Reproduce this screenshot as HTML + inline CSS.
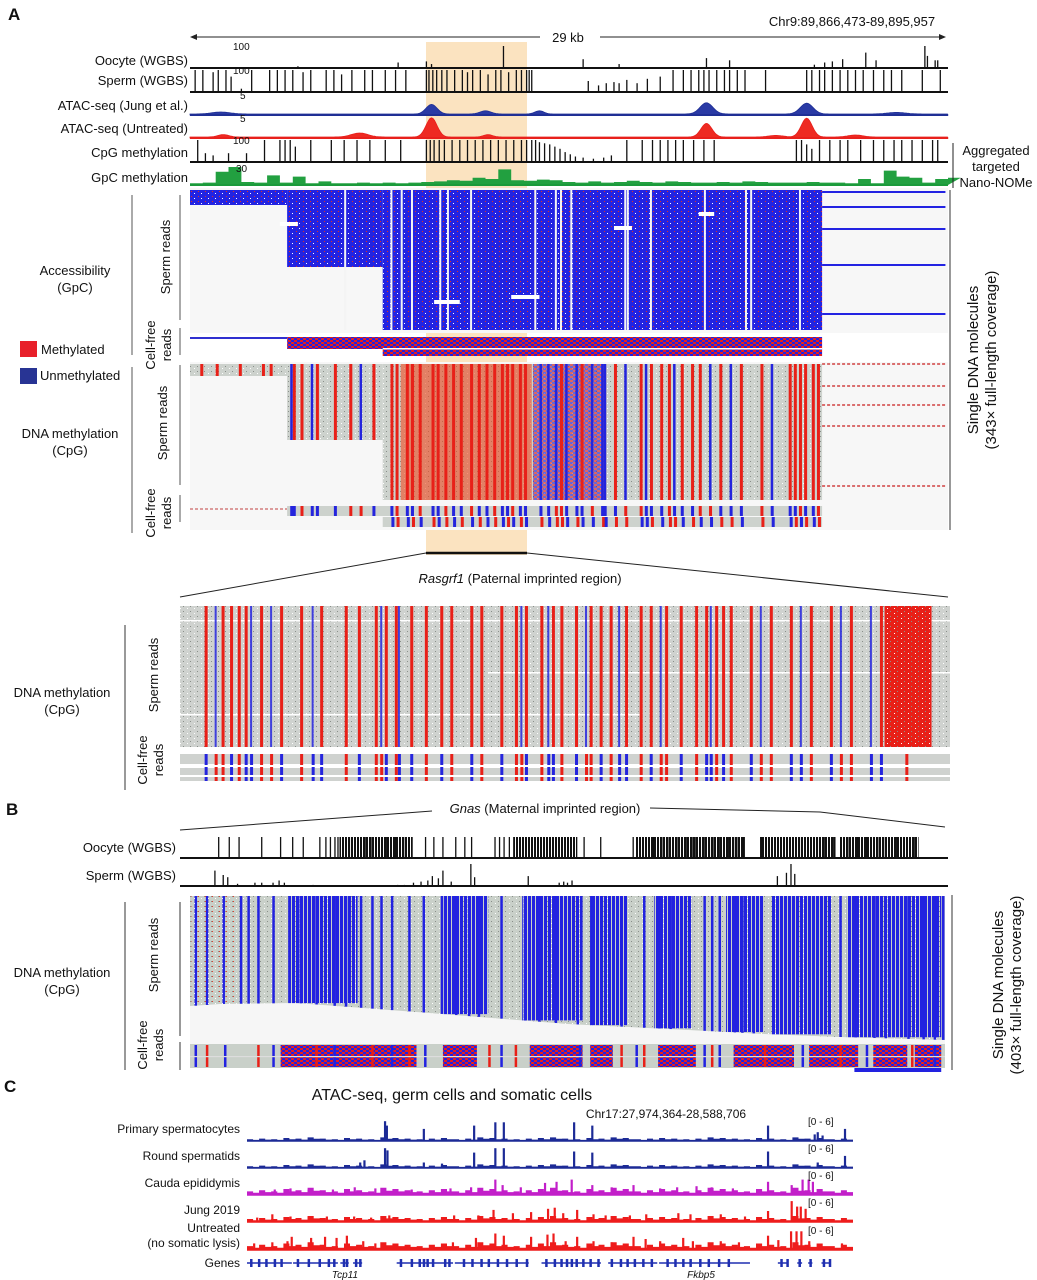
<!DOCTYPE html>
<html><head><meta charset="utf-8"><style>
html,body{margin:0;padding:0;background:#fff}
svg{display:block;font-family:"Liberation Sans",Arial,sans-serif}
</style></head><body>
<svg id="fig" width="1037" height="1280" viewBox="0 0 1037 1280" xmlns="http://www.w3.org/2000/svg">
<defs>
<pattern id="speckBlue" width="7" height="5" patternUnits="userSpaceOnUse"><rect x="2" y="1" width="1" height="1" fill="#e53020"/><rect x="5" y="3" width="1" height="1" fill="#ffffff"/></pattern>
<pattern id="speckGray" width="7" height="5" patternUnits="userSpaceOnUse"><rect x="1" y="1" width="1" height="1" fill="#8a8f8a"/><rect x="5" y="3" width="1" height="1" fill="#ffffff"/></pattern>
<pattern id="denseBlue" width="4" height="4" patternUnits="userSpaceOnUse"><rect x="0" y="0" width="3" height="4" fill="#2222e0"/></pattern>
<pattern id="denseBlack" width="3" height="4" patternUnits="userSpaceOnUse"><rect x="0" y="0" width="2" height="4" fill="#111"/></pattern>
<pattern id="mixRB" width="6" height="4" patternUnits="userSpaceOnUse"><rect x="0" y="0" width="3" height="2" fill="#e52020"/><rect x="3" y="0" width="3" height="2" fill="#2222e0"/><rect x="0" y="2" width="3" height="2" fill="#2222e0"/><rect x="3" y="2" width="3" height="2" fill="#e52020"/></pattern>
</defs>
</svg>
<script>
// ---------------- DATA ----------------
const oocyteBars=[[4.2,8],[8.1,25],[9.2,30],[9.4,18],[12.2,100],[15.3,40],[16.7,18],[20.1,45],[21.0,35],[24.3,15],[24.7,25],[25.0,30],[25.4,40],[26.3,70],[26.7,35],[28.6,100],[28.7,55],[29.0,35],[29.1,35]];
const spermBars=[[0.2,100],[0.5,100],[0.9,90],[1.1,100],[1.4,100],[1.6,70],[2.0,15],[2.4,100],[3.1,100],[3.4,100],[3.7,100],[4.0,100],[4.4,90],[4.7,100],[5.3,100],[5.6,100],[5.9,80],[6.3,100],[6.8,100],[7.1,100],[7.6,100],[8.0,100],[8.4,100],[9.2,100],[9.3,100],[9.45,100],[9.6,100],[9.8,100],[10.0,100],[10.3,100],[10.6,100],[10.8,90],[11.0,100],[11.3,100],[11.6,80],[11.9,100],[12.1,100],[12.4,90],[12.7,100],[12.9,100],[13.1,100],[13.2,100],[13.3,100],[15.5,50],[15.9,30],[16.2,40],[16.5,45],[16.7,40],[17.0,55],[17.4,40],[17.8,60],[18.3,70],[18.8,100],[19.2,100],[19.5,100],[19.8,100],[20.0,100],[20.2,100],[20.5,100],[20.8,100],[21.0,100],[21.3,100],[21.6,100],[22.4,100],[24.0,100],[24.2,100],[24.5,100],[24.7,100],[25.0,100],[25.3,100],[25.6,100],[25.9,100],[26.2,100],[26.6,100],[27.0,100],[27.3,100],[27.7,100],[28.5,100],[29.2,100]];
const cpgBars=[[0.3,100],[0.6,40],[0.9,30],[1.5,40],[2.2,40],[2.9,100],[3.5,100],[3.7,100],[3.9,100],[4.1,70],[4.7,100],[5.5,100],[6.0,100],[6.5,100],[7.0,100],[7.6,100],[8.2,100],[9.2,100],[9.35,100],[9.5,100],[9.7,100],[9.9,100],[10.2,100],[10.5,100],[10.8,100],[11.1,100],[11.4,100],[11.7,100],[12.0,100],[12.3,100],[12.6,100],[12.9,100],[13.1,100],[13.3,100],[13.45,100],[13.6,90],[13.8,85],[14.0,80],[14.2,70],[14.4,60],[14.6,45],[14.8,35],[15.0,25],[15.3,20],[15.7,15],[16.1,20],[16.4,30],[17.0,100],[17.6,100],[18.0,100],[18.3,100],[18.6,100],[18.9,100],[19.2,100],[19.6,100],[20.0,100],[20.4,100],[23.6,100],[23.8,100],[24.0,80],[24.2,60],[24.5,100],[24.9,100],[25.3,100],[25.6,100],[26.1,100],[26.6,100],[27.0,100],[27.4,100],[27.7,100],[28.1,100],[28.5,100],[28.9,100],[29.1,100]];
const gpcValues=[3,4,22,30,5,4,16,4,14,3,6,3,3,4,3,4,3,4,5,6,8,7,12,10,26,8,7,9,8,5,4,6,4,5,7,5,4,6,5,4,4,5,4,6,5,4,4,4,5,4,4,3,10,3,24,14,12,4,10,12];
const atacJungPeaks=[[1.2,0.5,0.5],[9.4,2.4,0.3],[11.5,0.8,0.3],[13.6,0.8,0.25],[20.1,2.8,0.35],[24.0,2.7,0.35],[27.5,0.4,0.5]];
const atacUntrPeaks=[[1.3,0.6,0.3],[6.6,1.0,0.45],[9.4,4.8,0.3],[11.6,0.6,0.25],[20.1,3.4,0.3],[24.0,4.7,0.3],[22.8,0.4,0.4],[25.9,0.5,0.4]];
const accessWhite=[6.0,7.8,8.2,8.6,9.7,10.0,10.9,13.4,14.2,14.4,14.8,16.9,17.0,17.9,20.0,21.6,21.8,23.7];
const accessReadY=[190,205,227,263,312];
const methRedA=[0.4,1.0,1.9,2.8,3.1,4.0,4.3,4.9,5.6,6.2,7.1,7.8,8.0,8.4,8.6,8.9,9.4,9.6,9.9,10.2,10.5,10.9,11.2,11.5,11.8,12.1,12.3,12.5,12.8,13.0,14.4,15.2,16.5,17.5,17.9,18.3,18.6,19.1,19.5,19.8,20.6,21.4,22.2,23.3,23.5,23.7,23.9,24.2,24.4];
const methBlueA=[3.9,4.7,6.6,13.6,13.9,14.2,14.6,15.0,15.6,16.0,16.1,16.9,17.7,18.8,20.2,21.0,22.6];
const methReadY=[364,386,405,426,486];
const zoomRed=[3.2,5.4,6.5,7.5,8.4,10.4,13.0,15.6,18.2,21.4,23.1,25.3,26.6,27.9,29.9,31.8,33.8,35.1,37.7,39.0,41.6,43.5,44.8,46.8,48.3,49.4,51.3,53.2,54.5,55.8,57.8,59.7,61.0,63.0,64.9,66.9,68.2,69.5,70.4,71.4,74.0,76.6,79.2,81.8,84.4,87.0,90.9];
const zoomBlue=[4.5,9.1,11.7,17.1,26.0,28.3,44.2,47.7,52.6,56.9,62.3,68.8,75.3,80.5,85.7,89.6,94.2];
const zoomDenseRed=[[91.5,97.6]];
const oocyteBPos=[3.8,5.2,6.5,9.5,12,13.6,15,17.2,18,18.6,19.2,19.6,20.3,21.4,22.3,23.2,24.1,25,26,27.2,28.3,31.2,32.3,33.5,35.2,36.4,37.3,40.4,41,41.6,42.3,46.5,52.2,54.4,58.7,61.4,62.5,63.3,64.5,65.8,66.5,67,67.6,68.1,68.8,69.4,70.1,70.7,71.3,72,72.6,73.3,75.7,81,83.1,84,85.2,87.3,88.4,89.6,91.1,92.1,93,93.6,94.2,95,96];
const oocyteBDense=[[19.8,29.5],[42.8,51.3],[59,64.5],[64.5,73.5],[75.5,85.5],[86,96.5]];
const spermBBars=[[3.3,70],[4.4,50],[5,40],[6.3,10],[8.6,15],[9.5,15],[11,15],[11.8,25],[12.5,15],[16.3,5],[27.5,5],[28.4,5],[29.6,15],[30.6,20],[31.5,25],[32.1,45],[32.9,35],[33.5,70],[34.6,20],[37.2,100],[37.7,40],[44.8,45],[48.9,15],[49.5,20],[50,15],[50.6,25],[77.8,45],[79,60],[79.6,100],[80.1,55]];
const blueStripesB=[0.6,2.1,4.3,6.6,7.6,8.9,10.9,14.5,16.6,19.0,20.5,22.5,24.0,25.2,26.6,28.9,30.8,33.2,35.1,36.8,38.1,41.1,44.2,46.1,48.3,51.2,53.0,57.0,60.0,62.0,63.5,68.0,69.0,70.0,72.0,73.0,74.5,86.0,88.0,90.5,92.0,95.0,97.0,98.5,99.6];
const blueBlocksB=[[13.0,22.2],[33.5,39.5],[44.0,52.0],[53.0,58.0],[61.5,66.5],[71.0,76.0],[77.0,85.0],[87.0,99.5]];
const coverageB=[[0,1006],[4,1004],[14,1003],[30,1012],[50,1024],[66,1030],[76,1034],[86,1037],[100,1040]];
const cfBlocksB=[[12,30],[33.5,38],[45,52],[53,56],[62,67],[72,80],[82,88.5],[90.5,95],[96,99.5]];
const cfStripesB=[0.6,2.1,4.5,8.9,10.9,16.6,19,24,26.6,28.9,31,39.5,41.1,43,51.5,57,59,60,68,69,70,76,81,86,89.5,95.5,98.5];
const bgLevel=[3,4,3,5,4,6,4,3,5,4,3,6,5,4,3,4,5,3,4,6,5,4,3,4,5,6,4,3,5,4,6,5,3,4,5,4,3,4,6,5,4,3,5,4,3,6,4,5,3,4];
const primaryPeaks=[[22.6,90],[22.9,70],[29,55],[37.3,70],[40.8,85],[42.2,85],[53.8,85],[56.8,70],[85.8,70],[93.5,30],[94.0,40],[94.8,25],[98.5,55]];
const roundPeaks=[[18.5,25],[19.2,35],[22.6,90],[23,80],[29,25],[32,20],[37.3,70],[40.8,90],[42.2,90],[53.8,75],[56.8,70],[85.8,75],[94,25],[98.5,55]];
const caudaPeaks=[[2,20],[4.4,25],[7,30],[10,25],[14,25],[17.6,35],[21,30],[27,25],[33.4,30],[36.8,35],[40.8,70],[42,45],[45,35],[49,55],[50.9,60],[53.4,70],[56.8,45],[60,35],[63.6,45],[68,30],[70.8,35],[74,40],[76.5,35],[80,30],[85.8,60],[89.7,45],[91.5,70],[92.5,70],[93.2,60]];
const jungPeaks=[[1.5,20],[4,35],[7,25],[10,25],[13,25],[17.5,25],[20.3,20],[23.3,30],[34,30],[38,30],[40.5,55],[43.7,40],[46.7,45],[49.5,60],[50.6,65],[52,40],[54.3,55],[57,35],[59,30],[63,30],[65.7,35],[71,40],[73,35],[78,35],[82,25],[85.8,50],[89.7,95],[90.6,70],[91.2,70],[92,60]];
const untrPeaks=[[1,30],[4,35],[6.5,40],[7.2,60],[10.4,55],[12.7,60],[14.6,55],[16.3,65],[19,40],[21,30],[33.8,35],[37.6,55],[40.8,75],[42.2,65],[46.7,60],[49.4,70],[50.4,75],[52.4,40],[54.3,60],[57,40],[60,35],[63.6,60],[65.6,50],[68,40],[71.8,55],[73.4,40],[78,40],[81,35],[85.8,65],[87.5,45],[89.6,85],[90.5,85],[91.3,85],[92.6,40],[98,30]];
const geneBlocks=[[0,7.4],[7.6,15],[15.4,16.8],[17.5,19],[24.7,34],[34.3,46.5],[48.6,58.4],[59.6,67.7],[68,83],[87.6,89.2],[90.8,91.6],[92.6,93.3],[94.8,96.3]];
const geneExons=[0.5,1.8,3,4.4,5.5,8.2,10,11.8,13.3,14.2,15.8,16.3,17.8,18.5,25.2,27,28.3,29,29.6,30.5,32.5,33.2,35.6,37,38.5,39.7,41.2,42.7,44.3,46,49.2,50.6,51.7,52.6,53.4,54.2,55.3,56.5,57.8,60,61.5,62.6,63.8,65.2,66.6,69.2,70.5,71.8,73,74.6,76,77.7,79.3,88,89,91,92.8,95,96];

// ---------------- HELPERS ----------------
const NS='http://www.w3.org/2000/svg';
const svg=document.getElementById('fig');
function mk(tag,attrs,parent){const e=document.createElementNS(NS,tag);for(const k in attrs)e.setAttribute(k,attrs[k]);(parent||svg).appendChild(e);return e;}
function txt(x,y,s,size,anchor,extra){const e=mk('text',Object.assign({x:x,y:y,'font-size':size,'text-anchor':anchor||'start',fill:'#111'},extra||{}));e.textContent=s;return e;}
function grp(){return mk('g',{});}
const xA=kb=>190+kb/29.5*758;
const xZ=u=>180+u*7.7;
const xB=u=>190+u*7.55;
const xC=u=>247+u*6.06;

let t,g,r,p;
t=txt(8,20,'A',17,'start',{'font-weight':'bold'});


r=mk('rect',{x:426,y:42,width:101,height:513,fill:'#fbe3c0'});


g=grp();


mk('line',{x1:192,y1:37,x2:540,y2:37,stroke:'#222','stroke-width':1},g);
mk('line',{x1:600,y1:37,x2:944,y2:37,stroke:'#222','stroke-width':1},g);
mk('path',{d:'M190 37 l7 -3 v6z',fill:'#222'},g);
mk('path',{d:'M946 37 l-7 -3 v6z',fill:'#222'},g);
t=txt(568,42,'29 kb',13,'middle');


t=txt(852,26,'Chr9:89,866,473-89,895,957',13,'middle');



function barTrack(name,bars,base,h,color,label,ly,maxLabel){
  const gg=grp();
  
  
  bars.forEach(b=>{const bb=mk('line',{x1:xA(b[0]),x2:xA(b[0]),y1:base,y2:base-b[1]/100*h,stroke:color,'stroke-width':1.3},gg);
    });
  mk('line',{x1:190,x2:948,y1:base,y2:base,stroke:color,'stroke-width':2},gg);
  const tl=txt(188,ly,label,13,'end');
  
  if(maxLabel){txt(233,base-h+4,maxLabel,10,'start');}
}
barTrack('oocyte-wgbs-track',oocyteBars,68,22,'#111','Oocyte (WGBS)',65,'100');
barTrack('sperm-wgbs-track',spermBars,92,22,'#111','Sperm (WGBS)',85,'100');
function areaTrack(name,peaks,base,h,maxV,color,fill,label,ly,maxLabel,baseLvl){
  const gg=grp();
  
  
  let d='M190 '+base;
  for(let x=190;x<=948;x+=1.5){const kb=(x-190)/758*29.5;let v=baseLvl;peaks.forEach(pk=>{v+=pk[1]*Math.exp(-Math.pow((kb-pk[0])/pk[2],2));});d+=' L'+x.toFixed(1)+' '+(base-v/maxV*h).toFixed(1);}
  d+=' L948 '+base+'Z';
  const pa=mk('path',{d:d,fill:fill,stroke:color,'stroke-width':0.8},gg);
  
  mk('line',{x1:190,x2:948,y1:base,y2:base,stroke:color,'stroke-width':2},gg);
  const tl=txt(188,ly,label,13,'end');
  
  txt(240,base-h+4,maxLabel,10,'start');
}
areaTrack('atac-jung-track',atacJungPeaks,115,20,5,'#1f2f95','#2a3aa5','ATAC-seq (Jung et al.)',110,'5',0.25);
areaTrack('atac-untreated-track',atacUntrPeaks,138,20,5,'#e8201c','#ee2a22','ATAC-seq (Untreated)',133,'5',0.25);
barTrack('cpg-methylation-track',cpgBars,162,22,'#111','CpG methylation',157,'100');
g=grp();


{let d='M190 185';gpcValues.forEach((v,i)=>{const x0=xA(i*0.5),x1=xA(i*0.5+0.5),y=185-v/30*18;d+=' L'+x0.toFixed(1)+' '+y.toFixed(1)+' L'+x1.toFixed(1)+' '+y.toFixed(1);});d+=' L948 185Z';
 p=mk('path',{d:d,fill:'#22a040'},g);
 }
mk('line',{x1:190,x2:948,y1:185,y2:185,stroke:'#1a9a3a','stroke-width':2},g);
t=txt(188,182,'GpC methylation',13,'end');

txt(236,172,'30',10,'start');
g=grp();


mk('line',{x1:953,y1:143,x2:953,y2:188,stroke:'#222'},g);
t=txt(996,155,'Aggregated',13,'middle');g.appendChild(t);
t=txt(996,171,'targeted',13,'middle');g.appendChild(t);
t=txt(996,187,'Nano-NOMe',13,'middle');g.appendChild(t);

// Accessibility heatmap
g=grp();


mk('rect',{x:190,y:188,width:758,height:145,fill:'#f7f7f7'},g);
const accSteps=[[0,3.78,205],[3.78,7.5,267],[7.5,24.6,330]];
accSteps.forEach(s=>{const rr=mk('rect',{x:xA(s[0]),y:190,width:xA(s[1])-xA(s[0]),height:s[2]-190,fill:'#2323e2'},g);
  
  mk('rect',{x:xA(s[0]),y:190,width:xA(s[1])-xA(s[0]),height:s[2]-190,fill:'url(#speckBlue)'},g);});
accessWhite.forEach(kb=>{const ww=mk('rect',{x:xA(kb),y:190,width:2,height:140,fill:'#f4f4f4'},g);
  });
[[3.5,4.2,222],[9.5,10.5,300],[12.5,13.6,295],[16.5,17.2,226],[19.8,20.4,212]].forEach(s=>mk('rect',{x:xA(s[0]),y:s[2],width:xA(s[1])-xA(s[0]),height:4,fill:'#fff'},g));
accessReadY.forEach(y=>{const rl=mk('rect',{x:xA(24.6),y:y+1,width:xA(29.4)-xA(24.6),height:2,fill:'#2323e2'},g);
  });
mk('rect',{x:190,y:337,width:97,height:2,fill:'#3030d0'},g);
r=mk('rect',{x:xA(3.78),y:337,width:xA(24.6)-xA(3.78),height:12,fill:'url(#mixRB)'},g);

mk('rect',{x:xA(7.5),y:349,width:xA(24.6)-xA(7.5),height:7,fill:'url(#mixRB)'},g);
mk('rect',{x:xA(7.5),y:348,width:xA(24.6)-xA(7.5),height:1.5,fill:'#fff'},g);

// DNA methylation heatmap A
g=grp();


mk('rect',{x:190,y:362,width:758,height:168,fill:'#f7f7f7'},g);
const methSteps=[[0,3.78,376],[3.78,7.5,440],[7.5,24.6,500]];
const stepBottom=kb=>{for(const s of methSteps){if(kb>=s[0]&&kb<s[1])return s[2];}return 364;};
methSteps.forEach(s=>{const rr=mk('rect',{x:xA(s[0]),y:364,width:xA(s[1])-xA(s[0]),height:s[2]-364,fill:'#cdd2cd'},g);
  
  mk('rect',{x:xA(s[0]),y:364,width:xA(s[1])-xA(s[0]),height:s[2]-364,fill:'url(#speckGray)'},g);});
mk('rect',{x:xA(8.2),y:364,width:xA(13.3)-xA(8.2),height:136,fill:'#f04a20',opacity:0.6},g);
r=mk('rect',{x:xA(13.35),y:364,width:xA(16.2)-xA(13.35),height:136,fill:'url(#mixRB)',opacity:0.6},g);

methRedA.forEach(kb=>{const b=stepBottom(kb);const rr=mk('rect',{x:xA(kb),y:364,width:3,height:b-364,fill:'#e82018'},g);
  });
methBlueA.forEach(kb=>{const b=stepBottom(kb);const rr=mk('rect',{x:xA(kb),y:364,width:2.5,height:b-364,fill:'#2424dd'},g);
  });
methReadY.forEach(y=>{const rl=mk('line',{x1:xA(24.6),x2:xA(29.4),y1:y,y2:y,stroke:'#d04040','stroke-width':1.5,'stroke-dasharray':'3 2'},g);
  });
mk('line',{x1:190,x2:287,y1:509,y2:509,stroke:'#c04040','stroke-dasharray':'3 2'},g);
r=mk('rect',{x:xA(3.78),y:506,width:xA(24.6)-xA(3.78),height:10,fill:'#cdd2cd'},g);

mk('rect',{x:xA(7.5),y:517,width:xA(24.6)-xA(7.5),height:10,fill:'#cdd2cd'},g);
methRedA.concat(methBlueA).forEach((kb,i)=>{if(kb<3.78)return;const c=i%3===0?'#e82018':'#2424dd';
  const s1=mk('rect',{x:xA(kb),y:506,width:3,height:10,fill:c},g);
  
  if(kb>=7.5){const s2=mk('rect',{x:xA(kb)+1,y:517,width:3,height:10,fill:i%2?'#2424dd':'#e82018'},g);
  }});

function vtext(x,y,s,size,name){const tt=txt(x,y,s,size,'middle',{transform:'rotate(-90 '+x+' '+y+')'});return tt;}
t=txt(75,275,'Accessibility',13,'middle');

txt(75,292,'(GpC)',13,'middle');
t=txt(70,438,'DNA methylation',13,'middle');

txt(70,455,'(CpG)',13,'middle');
mk('line',{x1:132,y1:195,x2:132,y2:355,stroke:'#555'});
mk('line',{x1:132,y1:367,x2:132,y2:533,stroke:'#555'});
mk('line',{x1:180,y1:195,x2:180,y2:320,stroke:'#555'});
mk('line',{x1:180,y1:328,x2:180,y2:355,stroke:'#555'});
mk('line',{x1:180,y1:365,x2:180,y2:485,stroke:'#555'});
mk('line',{x1:180,y1:495,x2:180,y2:522,stroke:'#555'});
vtext(170,257,'Sperm reads',13,'sperm-reads-label');
vtext(155,345,'Cell-free',13,'cellfree-label');
vtext(171,345,'reads',13,'cellfree-label');
vtext(167,423,'Sperm reads',13,'sperm-reads-label');
vtext(155,513,'Cell-free',13,'cellfree-label');
vtext(171,513,'reads',13,'cellfree-label');
g=grp();


r=mk('rect',{x:20,y:341,width:17,height:16,fill:'#e8202a'},g);

r=mk('rect',{x:20,y:368,width:17,height:16,fill:'#283494'},g);

t=txt(41,354,'Methylated',13,'start');

g.appendChild(t);
t=txt(40,380,'Unmethylated',13,'start');

g.appendChild(t);
mk('line',{x1:950,y1:190,x2:950,y2:530,stroke:'#333'});
vtext(978,360,'Single DNA molecules',15,'single-molecules-label');
vtext(996,360,'(343× full-length coverage)',15,'coverage-label');

mk('line',{x1:426,y1:553,x2:527,y2:553,stroke:'#111','stroke-width':2.5});
mk('line',{x1:426,y1:553,x2:180,y2:597,stroke:'#222'});
mk('line',{x1:527,y1:553,x2:948,y2:597,stroke:'#222'});
t=txt(520,583,'',13,'middle');

{const s1=mk('tspan',{'font-style':'italic'},t);s1.textContent='Rasgrf1';const s2=mk('tspan',{},t);s2.textContent=' (Paternal imprinted region)';}

g=grp();


mk('rect',{x:180,y:606,width:770,height:141,fill:'#cfd2cf'},g);
mk('rect',{x:180,y:606,width:770,height:141,fill:'url(#speckGray)'},g);
[[620,0,100],[672,40,100],[714,0,60]].forEach(s=>mk('rect',{x:xZ(s[1]),y:s[0],width:xZ(s[2])-xZ(s[1]),height:1.5,fill:'#fff'},g));
zoomRed.forEach(u=>{const rr=mk('rect',{x:xZ(u),y:606,width:3,height:141,fill:'#e82018'},g);
  });
zoomBlue.forEach(u=>{const rr=mk('rect',{x:xZ(u),y:606,width:2,height:141,fill:'#2525dd',opacity:0.85},g);
  });
zoomDenseRed.forEach(s=>{const rr=mk('rect',{x:xZ(s[0]),y:606,width:xZ(s[1])-xZ(s[0]),height:141,fill:'#e82018'},g);
  
  mk('rect',{x:xZ(s[0]),y:606,width:xZ(s[1])-xZ(s[0]),height:141,fill:'url(#speckGray)'},g);});
[[754,10],[768,8],[777,4]].forEach(s=>mk('rect',{x:180,y:s[0],width:770,height:s[1],fill:'#cfd2cf'},g));
zoomRed.concat(zoomBlue).forEach((u,i)=>{const rr=mk('rect',{x:xZ(u),y:754,width:3,height:27,fill:i%2?'#e82018':'#2525dd'},g);
  });
mk('rect',{x:180,y:765,width:770,height:2,fill:'#fff'},g);
mk('rect',{x:180,y:775,width:770,height:2,fill:'#fff'},g);
t=txt(62,697,'DNA methylation',13,'middle');

txt(62,714,'(CpG)',13,'middle');
mk('line',{x1:125,y1:625,x2:125,y2:790,stroke:'#333'});
vtext(158,675,'Sperm reads',13,'sperm-reads-label');
vtext(147,760,'Cell-free',13,'cellfree-label');
vtext(163,760,'reads',13,'cellfree-label');

// ---------------- PANEL B ----------------
t=txt(6,815,'B',17,'start',{'font-weight':'bold'});


mk('polyline',{points:'180,830 432,811',fill:'none',stroke:'#222'});
mk('polyline',{points:'650,808 820,812 945,827',fill:'none',stroke:'#222'});
t=txt(545,813,'',13,'middle');

{const s1=mk('tspan',{'font-style':'italic'},t);s1.textContent='Gnas';const s2=mk('tspan',{},t);s2.textContent=' (Maternal imprinted region)';}
g=grp();


oocyteBPos.forEach(u=>{const bb=mk('line',{x1:xB(u),x2:xB(u),y1:858,y2:837,stroke:'#111','stroke-width':1.3},g);
  });
oocyteBDense.forEach(s=>{const rr=mk('rect',{x:xB(s[0]),y:837,width:xB(s[1])-xB(s[0]),height:21,fill:'url(#denseBlack)'},g);
  });
mk('line',{x1:180,x2:948,y1:858,y2:858,stroke:'#111','stroke-width':2},g);
t=txt(176,852,'Oocyte (WGBS)',13,'end');

g=grp();


spermBBars.forEach(b=>{const bb=mk('line',{x1:xB(b[0]),x2:xB(b[0]),y1:886,y2:886-b[1]/100*22,stroke:'#111','stroke-width':1.3},g);
  });
mk('line',{x1:180,x2:948,y1:886,y2:886,stroke:'#111','stroke-width':2},g);
t=txt(176,880,'Sperm (WGBS)',13,'end');


g=grp();


mk('rect',{x:190,y:896,width:755,height:148,fill:'#f6f6f6'},g);
{let pts='190,896 945,896';coverageB.slice().reverse().forEach(c=>{pts+=' '+xB(c[0]).toFixed(1)+','+c[1];});
 const pg=mk('polygon',{points:pts,fill:'#c9d0c9'},g);
 
 mk('polygon',{points:pts,fill:'url(#speckGray)'},g);
 const covAt=u=>{for(let i=1;i<coverageB.length;i++){if(u<=coverageB[i][0]){const a=coverageB[i-1],b=coverageB[i];return a[1]+(b[1]-a[1])*(u-a[0])/(b[0]-a[0]);}}return 1040;};
 blueBlocksB.forEach(s=>{const y2=Math.min(covAt(s[0]),covAt(s[1]));const rr=mk('rect',{x:xB(s[0]),y:896,width:xB(s[1])-xB(s[0]),height:y2-896,fill:'url(#denseBlue)'},g);
   });
 blueStripesB.forEach(u=>{const rr=mk('rect',{x:xB(u),y:896,width:2.5,height:covAt(u)-896,fill:'#2222e0'},g);
   });
 mk('rect',{x:xB(0.2),y:896,width:xB(6)-xB(0.2),height:110,fill:'url(#speckBlue)',opacity:0.9},g);
}
mk('rect',{x:190,y:1044,width:755,height:24,fill:'#c9d0c9'},g);
cfBlocksB.forEach(s=>{const rr=mk('rect',{x:xB(s[0]),y:1045,width:xB(s[1])-xB(s[0]),height:22,fill:'url(#mixRB)'},g);
  });
cfStripesB.forEach((u,i)=>{const rr=mk('rect',{x:xB(u),y:1045,width:2.5,height:22,fill:i%2?'#e82018':'#2222e0'},g);
  });
mk('rect',{x:xB(88),y:1068,width:xB(99.5)-xB(88),height:4,fill:'#2222e0'},g);
mk('rect',{x:190,y:1056,width:755,height:1.2,fill:'#ddd'},g);
t=txt(62,977,'DNA methylation',13,'middle');

txt(62,994,'(CpG)',13,'middle');
mk('line',{x1:125,y1:902,x2:125,y2:1070,stroke:'#333'});
mk('line',{x1:180,y1:902,x2:180,y2:1036,stroke:'#333'});
mk('line',{x1:180,y1:1042,x2:180,y2:1070,stroke:'#333'});
vtext(158,955,'Sperm reads',13,'sperm-reads-label');
vtext(147,1045,'Cell-free',13,'cellfree-label');
vtext(163,1045,'reads',13,'cellfree-label');
mk('line',{x1:952,y1:895,x2:952,y2:1070,stroke:'#333'});
vtext(1003,985,'Single DNA molecules',15,'single-molecules-b-label');
vtext(1021,985,'(403× full-length coverage)',15,'coverage-b-label');

// ---------------- PANEL C ----------------
t=txt(4,1092,'C',17,'start',{'font-weight':'bold'});


t=txt(452,1100,'ATAC-seq, germ cells and somatic cells',16,'middle');

t=txt(666,1118,'Chr17:27,974,364-28,588,706',12,'middle');

function cTrack(name,peaks,base,color,lines,bgScale){
  const gg=grp();
  
  
  let d='M247 '+base;
  bgLevel.forEach((v,i)=>{const x0=xC(i*2),x1=xC(i*2+1),x2=xC(i*2+2);const y=base-v*bgScale,y2=base-(v*0.6)*bgScale;d+=' L'+x0.toFixed(1)+' '+y.toFixed(1)+' L'+x1.toFixed(1)+' '+y.toFixed(1)+' L'+x1.toFixed(1)+' '+y2.toFixed(1)+' L'+x2.toFixed(1)+' '+y2.toFixed(1);});
  d+=' L853 '+base+'Z';
  const pa=mk('path',{d:d,fill:color},gg);
  
  peaks.forEach(pk=>{const bb=mk('rect',{x:xC(pk[0]),y:base-pk[1]/100*22,width:2.2,height:pk[1]/100*22,fill:color},gg);
    });
  mk('line',{x1:247,x2:853,y1:base,y2:base,stroke:color,'stroke-width':1.5},gg);
  lines.forEach((s,i)=>{const tl=txt(240,lines.length>1?base-18+i*15:base-8,s,12,'end');
    });
  const rl=txt(808,base-16,'[0 - 6]',10,'start');
  
}
cTrack('primary-spermatocytes-track',primaryPeaks,1141,'#1c2a96',['Primary spermatocytes'],0.6);
cTrack('round-spermatids-track',roundPeaks,1168,'#1c2a96',['Round spermatids'],0.6);
cTrack('cauda-epididymis-track',caudaPeaks,1195,'#c21fc9',['Cauda epididymis'],1.2);
cTrack('jung-2019-track',jungPeaks,1222,'#ee1c1c',['Jung 2019'],1.0);
cTrack('untreated-track',untrPeaks,1250,'#ee1c1c',['Untreated','(no somatic lysis)'],1.3);
g=grp();


geneBlocks.forEach(s=>{const gl=mk('line',{x1:xC(s[0]),x2:xC(s[1]),y1:1263,y2:1263,stroke:'#1f2fb0','stroke-width':1.5},g);
  });
geneExons.forEach(u=>{const ex=mk('rect',{x:xC(u),y:1259,width:2.5,height:8,fill:'#1f2fb0'},g);
  });
t=txt(240,1267,'Genes',12,'end');

t=txt(345,1278,'Tcp11',10,'middle',{'font-style':'italic'});

t=txt(701,1278,'Fkbp5',10,'middle',{'font-style':'italic'});

</script>
</body></html>
